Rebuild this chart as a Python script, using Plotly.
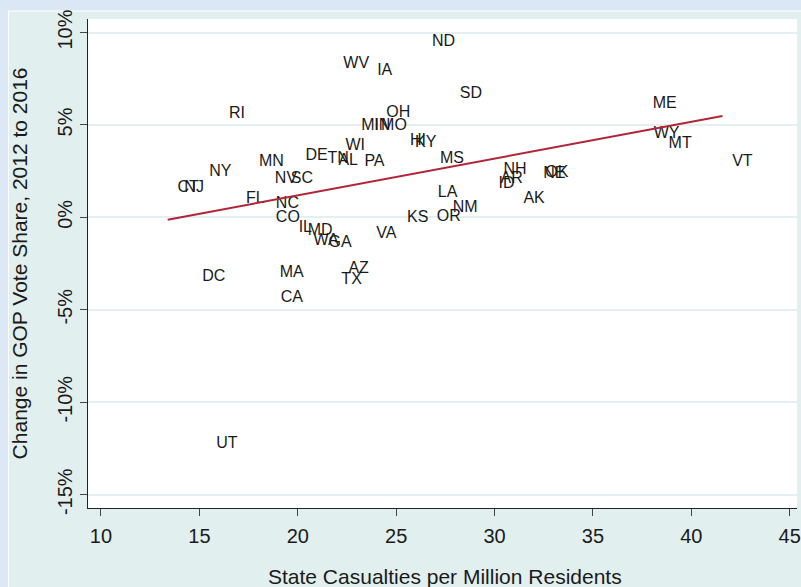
import numpy as np
import plotly.graph_objects as go

# ---- data ----
states = ["ND","WV","IA","SD","RI","OH","MI","IN","MO","WI","HI","KY","MS","DE","TN","AL","PA",
          "MN","NY","NV","SC","CT","NJ","FL","NC","LA","NM","KS","OR","CO","IL","MD","WA","GA",
          "VA","ME","WY","MT","VT","NH","AR","ID","OK","NE","AK","DC","MA","CA","AZ","TX","UT"]
casualties = [26.32,21.82,23.54,27.74,16.01,24.00,22.73,23.39,23.74,21.93,25.21,25.46,26.73,19.90,21.02,21.57,22.89,
              17.53,15.00,18.34,19.15,13.39,13.74,16.87,18.39,26.62,27.38,25.06,26.57,18.39,19.55,20.01,20.31,21.07,
              23.49,37.54,37.59,38.35,41.58,29.96,29.81,29.71,32.08,31.98,30.97,14.65,18.59,18.64,22.08,21.72,15.36]
gop_change = [9.50,8.32,7.90,6.65,5.58,5.62,4.92,4.92,4.96,3.84,4.11,4.01,3.14,3.30,3.14,3.03,2.98,
              2.98,2.44,2.06,2.06,1.57,1.57,0.98,0.71,1.30,0.49,-0.05,0.01,-0.05,-0.59,-0.75,-1.29,-1.40,
              -0.91,6.12,4.49,3.95,2.98,2.55,2.06,1.79,2.39,2.33,0.98,-3.24,-3.02,-4.38,-2.81,-3.40,-12.27]

x_ticks = [10, 15, 20, 25, 30, 35, 40, 45]
x_ticktext = ["10", "15", "20", "25", "30", "35", "40", "45"]
y_ticks = [10, 5, 0, -5, -10, -15]
y_ticktext = ["10%", "5%", "0%", "-5%", "-10%", "-15%"]

x_title = "State Casualties per Million Residents"
y_title = "Change in GOP Vote Share, 2012 to 2016"

# ---- linear fit ----
xa = np.array(casualties)
ya = np.array(gop_change)
slope, intercept = np.polyfit(xa, ya, 1)
fit_x = [xa.min(), xa.max()]
fit_y = [intercept + slope * v for v in fit_x]

W, H = 801, 587
ML, MR, MT, MB = 88, 0, 19, 79
PW, PH = W - ML - MR, H - MT - MB

def px_x(p):
    return (p - ML) / PW

def px_y(p):
    return (H - MB - p) / PH

fig = go.Figure()
fig.add_trace(go.Scatter(
    x=casualties, y=gop_change, text=states,
    mode="markers+text", textposition="middle right",
    marker=dict(size=14, color="rgba(0,0,0,0)"),
    textfont=dict(family="Liberation Sans, Arial, sans-serif", size=16, color="#1a1a1a"),
    showlegend=False, hoverinfo="skip",
))
fig.add_trace(go.Scatter(
    x=fit_x, y=fit_y, mode="lines",
    line=dict(color="#b22538", width=2),
    showlegend=False, hoverinfo="skip",
))

axis_font = dict(family="Liberation Sans, Arial, sans-serif", size=20, color="#1a1a1a")

fig.update_layout(
    width=W, height=H,
    margin=dict(l=ML, r=MR, t=MT, b=MB, pad=0),
    paper_bgcolor="#dbe7f5",
    plot_bgcolor="white",
    xaxis=dict(
        range=[9.34, 45.37], tickvals=x_ticks, ticktext=x_ticktext,
        showgrid=False, zeroline=False,
        showline=True, linecolor="#222", linewidth=1,
        ticks="outside", ticklen=7, tickcolor="#444", tickwidth=1,
        tickfont=axis_font, ticklabelstandoff=3, ticklabeloverflow="allow",
    ),
    yaxis=dict(
        range=[-15.72, 10.73], tickvals=y_ticks, ticktext=y_ticktext,
        showgrid=True, gridcolor="#e3eff0", gridwidth=2, zeroline=False,
        showline=True, linecolor="#222", linewidth=1,
        ticks="outside", ticklen=7, tickcolor="#444", tickwidth=1,
        tickfont=axis_font, tickangle=-90, ticklabeloverflow="allow",
    ),
    shapes=[
        dict(type="rect", xref="paper", yref="paper",
             x0=px_x(8), x1=px_x(W + 5), y0=px_y(H + 5), y1=px_y(11),
             fillcolor="#e2efef", line=dict(color="white", width=1), layer="below"),
        dict(type="rect", xref="paper", yref="paper",
             x0=0, x1=1, y0=0, y1=1,
             fillcolor="white", line=dict(width=0), layer="below"),
    ],
    annotations=[
        dict(text=x_title, xref="paper", yref="paper", x=px_x(447), y=px_y(576),
             xanchor="center", yanchor="middle", showarrow=False,
             font=dict(family="Liberation Sans, Arial, sans-serif", size=21, color="#1a1a1a")),
        dict(text=y_title, xref="paper", yref="paper", x=px_x(19), y=px_y(263),
             xanchor="center", yanchor="middle", showarrow=False, textangle=-90,
             font=dict(family="Liberation Sans, Arial, sans-serif", size=21, color="#1a1a1a")),
    ],
)

fig.write_html("out.html", config={"displayModeBar": False},
               post_script="document.body.style.margin='0px';document.body.style.overflow='hidden';")
